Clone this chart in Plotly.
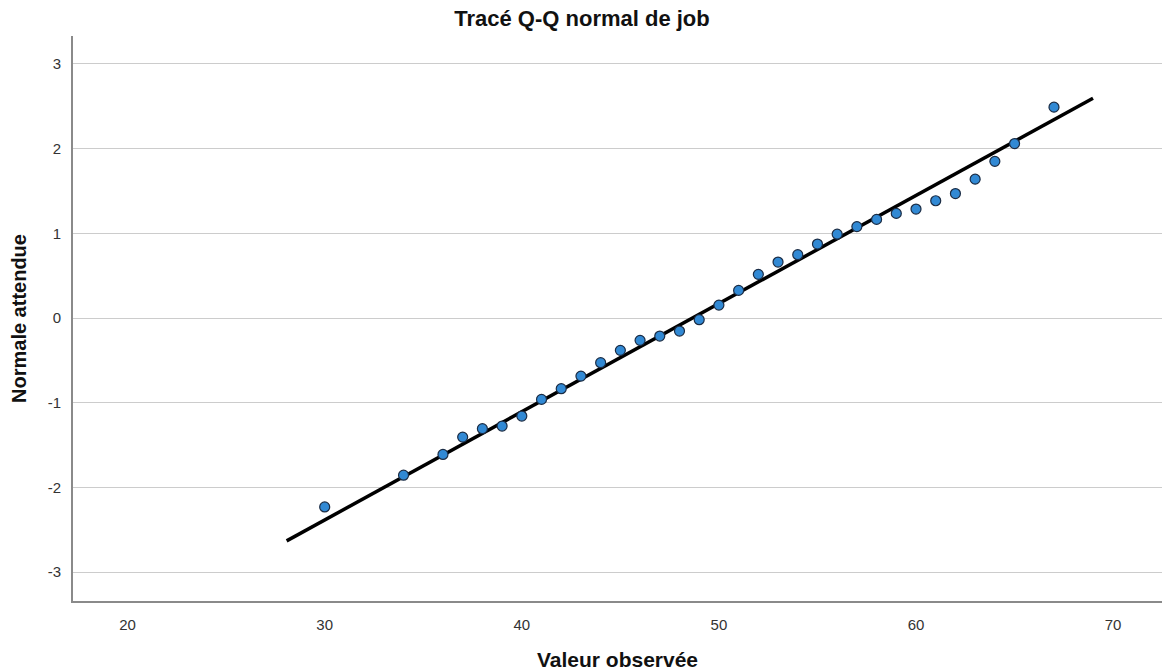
import plotly.graph_objects as go

# Observed values of "job" and their expected normal scores
observed = [30, 34, 36, 37, 38, 39, 40, 41, 42, 43, 44, 45, 46, 47, 48, 49,
            50, 51, 52, 53, 54, 55, 56, 57, 58, 59, 60, 61, 62, 63, 64, 65, 67]
expected = [-2.23, -1.855, -1.61, -1.405, -1.306, -1.275, -1.157, -0.96, -0.834,
            -0.685, -0.527, -0.381, -0.263, -0.212, -0.153, -0.019, 0.153, 0.327,
            0.516, 0.661, 0.748, 0.874, 0.99, 1.08, 1.165, 1.236, 1.287, 1.385,
            1.47, 1.64, 1.85, 2.06, 2.49]

# Reference normal line endpoints
line_x = [28.07, 68.98]
line_y = [-2.63, 2.595]

x_ticks = [20, 30, 40, 50, 60, 70]
y_ticks = [-3, -2, -1, 0, 1, 2, 3]
y_tick_text = ["-3", "-2", "-1", "0", "1", "2", "3"]

font_family = "Liberation Sans, Arial, sans-serif"

fig = go.Figure()
fig.add_trace(go.Scatter(
    x=line_x, y=line_y, mode="lines",
    line=dict(color="black", width=3.5),
    hoverinfo="skip", showlegend=False,
))
fig.add_trace(go.Scatter(
    x=observed, y=expected, mode="markers",
    marker=dict(size=10, color="#3189d4", line=dict(color="#1b2c44", width=1.2)),
    showlegend=False,
))

fig.update_layout(
    width=1164, height=672,
    margin=dict(l=73, r=2, t=36, b=71),
    paper_bgcolor="white", plot_bgcolor="white",
    font=dict(family=font_family, color="#222"),
    title=dict(text="<b>Tracé Q-Q normal de job</b>", x=0.5, xref="container",
               xanchor="center", y=0.973, yanchor="middle",
               font=dict(size=22, color="#111")),
    xaxis=dict(
        range=[17.23, 72.48], tickmode="array", tickvals=x_ticks,
        showgrid=False, zeroline=False,
        showline=True, linecolor="#8a8a8a", linewidth=2,
        ticks="", ticklabelstandoff=9,
        tickfont=dict(size=15, color="#333"),
        title=dict(text="<b>Valeur observée</b>", standoff=20,
                   font=dict(size=21, color="#111")),
    ),
    yaxis=dict(
        range=[-3.34, 3.33], tickmode="array", tickvals=y_ticks,
        ticktext=y_tick_text,
        showgrid=True, gridcolor="#cccccc", gridwidth=1.2, zeroline=False,
        showline=True, linecolor="#8a8a8a", linewidth=2,
        ticks="", ticklabelstandoff=7,
        tickfont=dict(size=15, color="#333"),
        title=dict(text="<b>Normale attendue</b>", standoff=16,
                   font=dict(size=20, color="#111")),
    ),
)

fig.write_html("out.html")
